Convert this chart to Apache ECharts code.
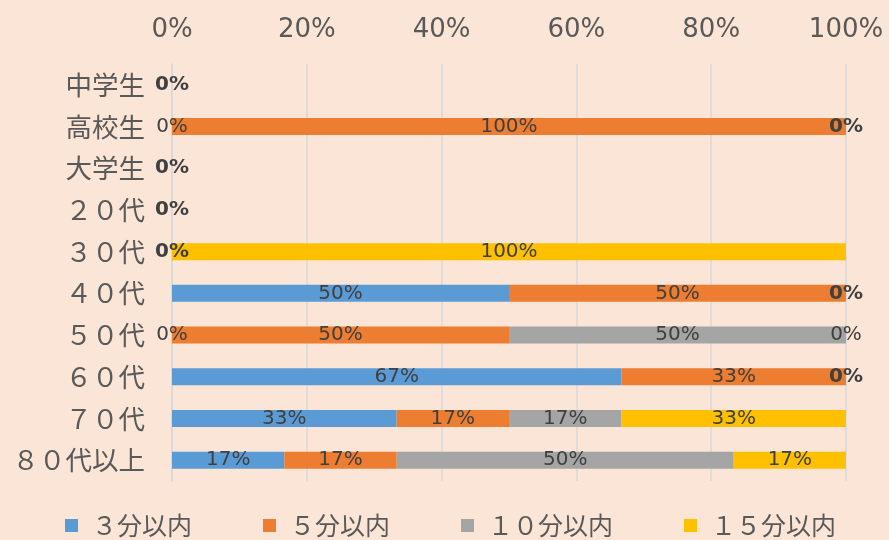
<!DOCTYPE html>
<html>
<head>
<meta charset="utf-8">
<script src="https://cdn.jsdelivr.net/npm/echarts@6/dist/echarts.min.js"></script>
<style>
html,body{margin:0;padding:0;background:#FBE5D6;}
#c{width:889px;height:540px;}
</style>
</head>
<body>
<div id="c"></div>
<script>
const categories = ['中学生','高校生','大学生','２０代','３０代','４０代','５０代','６０代','７０代','８０代以上'];
const seriesNames = ['３分以内','５分以内','１０分以内','１５分以内'];
const within3 = [0, 0, 0, 0, 0, 50, 0, 66.67, 33.33, 16.67];
const within5 = [0, 100, 0, 0, 0, 50, 50, 33.33, 16.67, 16.67];
const within10 = [0, 0, 0, 0, 0, 0, 50, 0, 16.67, 50];
const within15 = [0, 0, 0, 0, 100, 0, 0, 0, 33.33, 16.67];
const colors = ['#5B9BD5','#ED7D31','#A5A5A5','#FFC000'];

const chart = echarts.init(document.getElementById('c'));
const dataSets = [within3, within5, within10, within15];

function startOf(si, row) {
  let s = 0;
  for (let k = 0; k < si; k++) s += dataSets[k][row];
  return s;
}
function labelFor(si, row) {
  const v = dataSets[si][row];
  if (v !== 0) return Math.round(v) + '%';
  const pos = startOf(si, row);
  const same = [];
  for (let k = 0; k < dataSets.length; k++) {
    if (dataSets[k][row] === 0 && Math.abs(startOf(k, row) - pos) < 1e-6) same.push(k);
  }
  if (same[0] !== si) return '';
  return same.length > 1 ? '{b|0%}' : '0%';
}

const series = dataSets.map((d, i) => ({
  name: seriesNames[i],
  type: 'bar',
  stack: 'total',
  data: d,
  barWidth: 17,
  itemStyle: { color: colors[i] },
  label: {
    show: true,
    position: ['50%', '50%'],
    align: 'center',
    verticalAlign: 'middle',
    color: '#404040',
    fontSize: 20,
    fontFamily: 'DejaVu Sans',
    formatter: p => labelFor(i, p.dataIndex),
    rich: {
      b: { fontSize: 20, fontWeight: 'bold', color: '#404040', fontFamily: 'DejaVu Sans' }
    }
  }
}));

chart.setOption({
  backgroundColor: '#FBE5D6',
  animation: false,
  color: colors,
  grid: { left: 172, right: 43, top: 64, bottom: 59 },
  xAxis: {
    type: 'value',
    position: 'top',
    min: 0, max: 100, interval: 20,
    axisLine: { show: false },
    axisTick: { show: false },
    splitLine: { show: true, lineStyle: { color: '#D9D9D9', width: 1.5 } },
    axisLabel: { formatter: '{value}%', color: '#595959', fontSize: 26, fontFamily: 'DejaVu Sans', margin: 21 }
  },
  yAxis: {
    type: 'category',
    inverse: true,
    data: categories,
    axisLine: { show: true, lineStyle: { color: '#D9D9D9', width: 1.5 } },
    axisTick: { show: false },
    axisLabel: { color: '#595959', fontSize: 26.5, fontFamily: 'Noto Sans CJK JP', margin: 27 }
  },
  legend: {
    top: 508,
    left: 60,
    itemWidth: 13,
    itemHeight: 13,
    itemGap: 71,
    icon: 'rect',
    textStyle: { color: '#595959', fontSize: 25, fontFamily: 'Noto Sans CJK JP', padding: [0,0,0,9] },
    data: seriesNames
  },
  series: series
});
</script>
</body>
</html>
